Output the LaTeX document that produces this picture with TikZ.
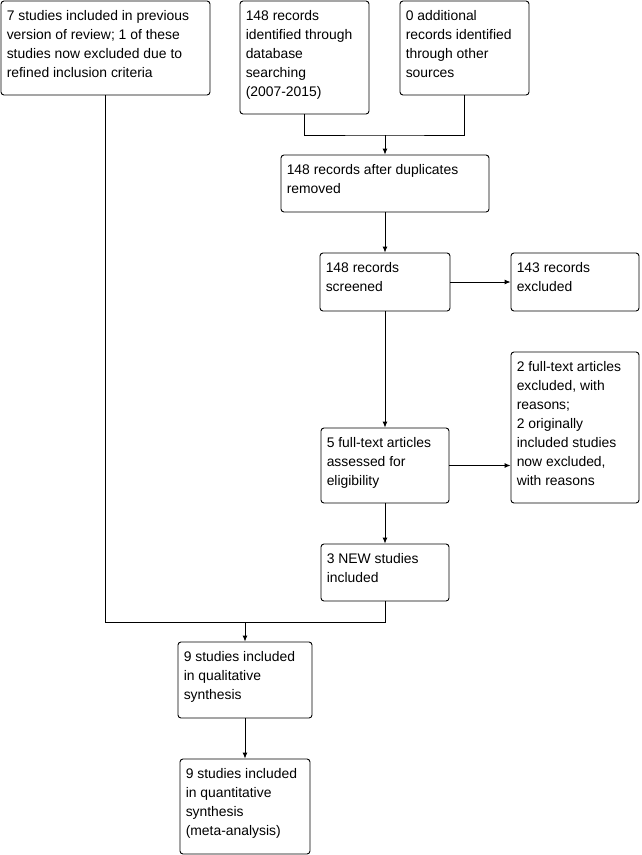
\documentclass[tikz,border=0pt]{standalone}
\usepackage{fontspec}
\setmainfont{Liberation Sans}
\usetikzlibrary{arrows.meta}
\tikzset{
  box/.style={draw, line width=0.9pt, rounded corners=3pt, inner sep=0pt},
  txt/.style={anchor=north west, inner sep=0pt, align=left, font=\fontsize{13.9}{19}\selectfont},
  conn/.style={line width=0.9pt},
  arr/.style={line width=0.9pt, -{Latex[length=6pt,width=5pt]}}
}
\begin{document}
\begin{tikzpicture}[x=1pt,y=-1pt]
\useasboundingbox (0,0) rectangle (642,855);
% boxes
\node[box, minimum width=209pt, minimum height=94pt] (a) at (105.5,48) {};
\node[box, minimum width=129pt, minimum height=113pt] (b) at (304.5,57.5) {};
\node[box, minimum width=129pt, minimum height=94pt] (c) at (464.5,48) {};
\node[box, minimum width=208pt, minimum height=57pt] (d) at (385,183.5) {};
\node[box, minimum width=130pt, minimum height=58pt] (e) at (385,282) {};
\node[box, minimum width=128pt, minimum height=58pt] (f) at (575,282) {};
\node[box, minimum width=128pt, minimum height=75pt] (g) at (385,465.5) {};
\node[box, minimum width=128pt, minimum height=151pt] (h) at (575,427.5) {};
\node[box, minimum width=128pt, minimum height=57pt] (i) at (385,572.5) {};
\node[box, minimum width=134pt, minimum height=76pt] (j) at (245,680) {};
\node[box, minimum width=130pt, minimum height=95pt] (k) at (245,806.5) {};
% texts
\node[txt] (ta) at ([shift={(6,10)}]a.north west) {7 studies included in previous\\version of review; 1 of these\\studies now excluded due to\\refined inclusion criteria};
\node[txt] (tb) at ([shift={(6,10)}]b.north west) {148 records\\identified through\\database\\searching\\(2007-2015)};
\node[txt] (tc) at ([shift={(6,10)}]c.north west) {0 additional\\records identified\\through other\\sources};
\node[txt] (td) at ([shift={(6,10)}]d.north west) {148 records after duplicates\\removed};
\node[txt] (te) at ([shift={(6,10)}]e.north west) {148 records\\screened};
\node[txt] (tf) at ([shift={(6,10)}]f.north west) {143 records\\excluded};
\node[txt] (tg) at ([shift={(6,10)}]g.north west) {5 full-text articles\\assessed for\\eligibility};
\node[txt] (th) at ([shift={(6,10)}]h.north west) {2 full-text articles\\excluded, with\\reasons;\\2 originally\\included studies\\now excluded,\\with reasons};
\node[txt] (ti) at ([shift={(6,10)}]i.north west) {3 NEW studies\\included};
\node[txt] (tj) at ([shift={(6,10)}]j.north west) {9 studies included\\in qualitative\\synthesis};
\node[txt] (tk) at ([shift={(6,10)}]k.north west) {9 studies included\\in quantitative\\synthesis\\(meta-analysis)};
% connectors
\coordinate (j1) at (385,135);
\coordinate (j2) at (245,622);
\draw[conn] (b.south) |- (j1) -| (c.south);
\draw[arr] (j1) -- (d.north);
\draw[arr] (d.south) -- (e.north);
\draw[arr] (e.east) -- (f.west);
\draw[arr] (e.south) -- (g.north);
\draw[arr] (g.east) -- (g.east -| h.west);
\draw[arr] (g.south) -- (i.north);
\draw[conn] (a.south) |- (j2);
\draw[conn] (i.south) |- (j2);
\draw[arr] (j2) -- (j.north);
\draw[arr] (j.south) -- (k.north);
\end{tikzpicture}
\end{document}
